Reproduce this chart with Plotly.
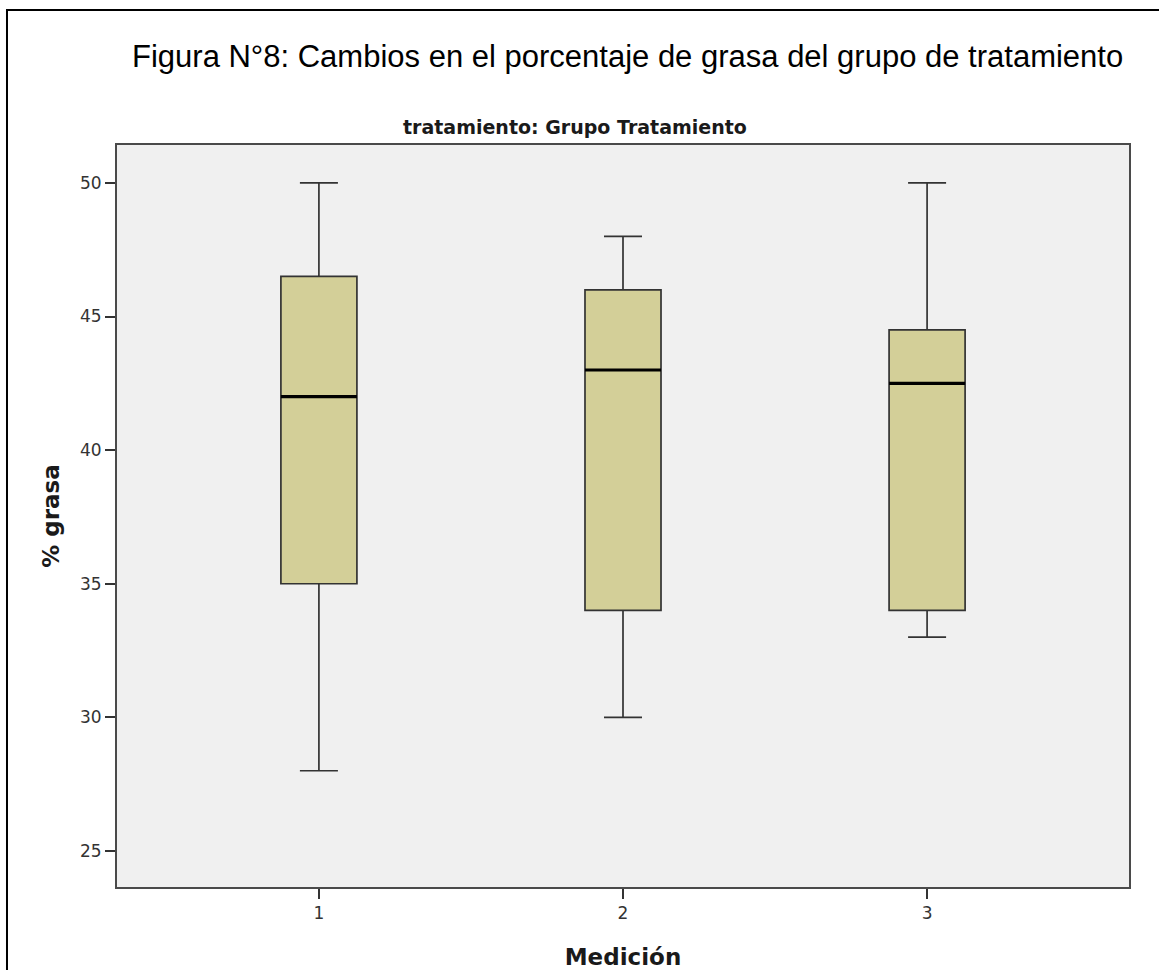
import plotly.graph_objects as go

# Five-number summaries of % body fat per measurement (treatment group)
mediciones = ["1", "2", "3"]
minimo = [28, 30, 33]
q1 = [35, 34, 34]
mediana = [42, 43, 42.5]
q3 = [46.5, 46, 44.5]
maximo = [50, 48, 50]

y_ticks = [25, 30, 35, 40, 45, 50]

BOX_FILL = "#d3cf98"
BOX_LINE = "#333333"
BOX_WIDTH = 0.25
SANS = "DejaVu Sans, Verdana, sans-serif"

fig = go.Figure()
for i, m in enumerate(mediciones):
    fig.add_trace(go.Box(
        x=[i],
        q1=[q1[i]], median=[mediana[i]], q3=[q3[i]],
        lowerfence=[minimo[i]], upperfence=[maximo[i]],
        width=BOX_WIDTH,
        whiskerwidth=0.5,
        fillcolor=BOX_FILL,
        line=dict(color=BOX_LINE, width=1.7),
        boxpoints=False,
        hoverinfo="skip",
        showlegend=False,
        name=m,
    ))

# thicker median bars drawn on top of each box
shapes = []
for i, med in enumerate(mediana):
    shapes.append(dict(
        type="line", xref="x", yref="y",
        x0=i - BOX_WIDTH / 2, x1=i + BOX_WIDTH / 2, y0=med, y1=med,
        line=dict(color="#000000", width=3.2),
    ))

# frame around the whole figure
shapes.append(dict(
    type="rect", xref="paper", yref="paper",
    x0=-0.1087, x1=1.2, y0=-0.3, y1=1.182,
    line=dict(color="#000000", width=2), fillcolor="rgba(0,0,0,0)", layer="below",
))

fig.update_layout(
    width=1159, height=970,
    margin=dict(l=117, r=30, t=145, b=83),
    paper_bgcolor="#ffffff",
    plot_bgcolor="#f0f0f0",
    shapes=shapes,
    font=dict(family="Liberation Sans, Arial, sans-serif", color="#000000"),
    annotations=[
        dict(text="Figura N°8: Cambios en el porcentaje de grasa del grupo de tratamiento",
             xref="paper", yref="paper", x=0.504, y=1.119, xanchor="center", yanchor="middle",
             showarrow=False, font=dict(size=31, color="#000000")),
        dict(text="<b>tratamiento: Grupo Tratamiento</b>",
             xref="paper", yref="paper", x=0.4526, y=1.024, xanchor="center", yanchor="middle",
             showarrow=False, font=dict(family=SANS, size=19, color="#1a1a1a")),
    ],
)

fig.update_xaxes(
    tickmode="array", tickvals=[0, 1, 2], ticktext=mediciones,
    range=[-0.664, 2.664], automargin=False,
    showgrid=False, zeroline=False,
    showline=True, linecolor="#4a4a4a", linewidth=2, mirror=True,
    ticks="outside", ticklen=10, tickwidth=2, tickcolor="#333333",
    tickfont=dict(family=SANS, size=17, color="#333333"),
    title=dict(text="<b>Medición</b>", font=dict(family=SANS, size=23, color="#1a1a1a"), standoff=27),
)
fig.update_yaxes(
    tickmode="array", tickvals=y_ticks,
    range=[23.65, 51.42], automargin=False,
    showgrid=False, zeroline=False,
    showline=True, linecolor="#4a4a4a", linewidth=2, mirror=True,
    ticks="outside", ticklen=10, tickwidth=2, tickcolor="#333333",
    tickfont=dict(family=SANS, size=17, color="#333333"),
    title=dict(text="<b>% grasa</b>", font=dict(family=SANS, size=23, color="#1a1a1a"), standoff=14),
)

fig.write_html("out.html")
